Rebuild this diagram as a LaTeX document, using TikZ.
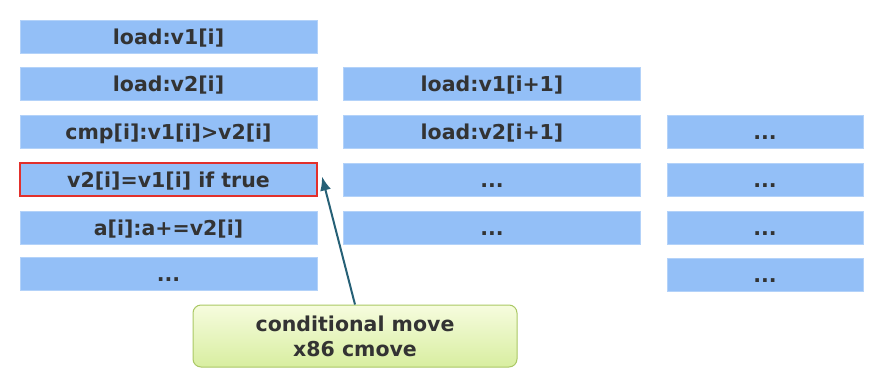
\documentclass[tikz,border=0pt]{standalone}
\usepackage{fontspec}
\setmainfont{DejaVu Sans}
\usepackage{tikz}
\usetikzlibrary{arrows, arrows.meta, shapes}
\definecolor{cellblue}{RGB}{147,191,247}
\definecolor{celltext}{RGB}{51,51,51}
\definecolor{markred}{RGB}{226,48,44}
\definecolor{pointer}{RGB}{38,96,118}
\definecolor{notetop}{RGB}{246,252,222}
\definecolor{notebot}{RGB}{216,238,160}
\definecolor{noteline}{RGB}{170,200,100}
\tikzstyle{line} = [draw, -latex']

\begin{document}
\begin{tikzpicture}[x=1pt, y=-1pt, >=latex,
		cell/.style={fill=cellblue, draw=cellblue!70!white, line width=0.6pt, minimum height=33pt, inner sep=0pt,
			text height=16pt, text depth=1pt,
			text=celltext, font=\bfseries\fontsize{20.5}{22}\selectfont},
		wide/.style={cell, minimum width=297pt},
		narrow/.style={cell, minimum width=196pt}]
	\useasboundingbox (0,0) rectangle (880,386);
	% erste Spalte
	\node[wide] (a1) at (168.5,36.5) {load:v1[i]};
	\node[wide] (a2) at (168.5,83.5) {load:v2[i]};
	\node[wide] (a3) at (168.5,131.5) {cmp[i]:v1[i]>v2[i]};
	\node[wide, draw=markred, line width=2pt] (a4) at (168.5,179.5) {v2[i]=v1[i] if true};
	\node[wide] (a5) at (168.5,227.5) {a[i]:a+=v2[i]};
	\node[wide] (a6) at (168.5,274) {...};
	% zweite Spalte
	\node[wide] (b2) at (492,83.5) {load:v1[i+1]};
	\node[wide] (b3) at (492,131.5) {load:v2[i+1]};
	\node[wide] (b4) at (492,179.5) {...};
	\node[wide] (b5) at (492,227.5) {...};
	% dritte Spalte
	\node[narrow] (c3) at (765,131.5) {...};
	\node[narrow] (c4) at (765,179.5) {...};
	\node[narrow] (c5) at (765,227.5) {...};
	\node[narrow] (c6) at (765,275) {...};
	% Hinweis
	\node[draw=noteline, line width=1pt, rounded corners=8pt, top color=notetop, bottom color=notebot,
		minimum width=324pt, minimum height=62pt, align=center, text=celltext,
		font=\bfseries\fontsize{20.5}{25}\selectfont] (note) at (355,336) {conditional move\\x86 cmove};
	\draw[pointer, line width=2pt, -{Latex[length=14pt, width=11pt]}] (note.north) -- ([xshift=4pt, yshift=3pt]a4.east);
\end{tikzpicture}
\end{document}
